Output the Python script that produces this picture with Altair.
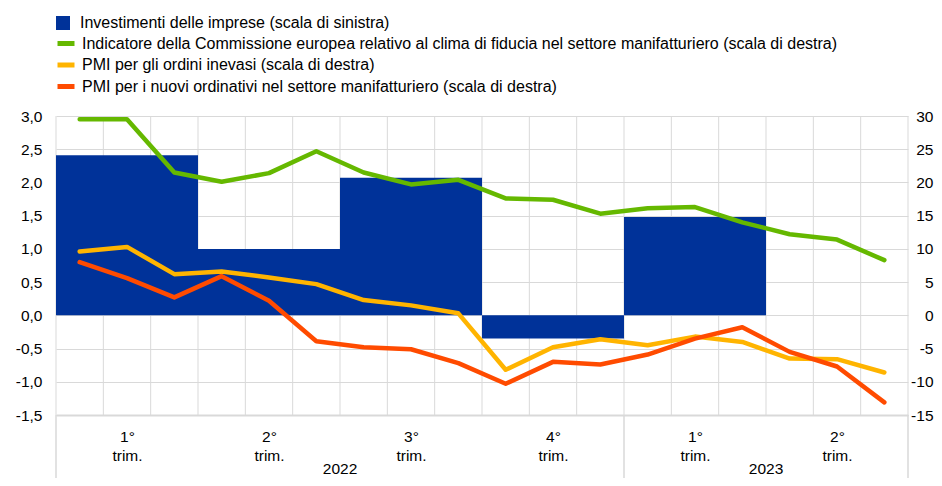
import altair as alt
import pandas as pd

# ---- data ----
month_idx = list(range(18))  # Jan 2022 .. Jun 2023
green = [29.5, 29.5, 21.5, 20.1, 21.4, 24.7, 21.5, 19.7, 20.4, 17.6, 17.4, 15.3, 16.1, 16.3, 14.0, 12.2, 11.4, 8.3]
yellow = [9.6, 10.3, 6.2, 6.6, 5.7, 4.7, 2.3, 1.5, 0.3, -8.2, -4.8, -3.6, -4.5, -3.2, -4.0, -6.5, -6.6, -8.6]
red = [8.0, 5.6, 2.7, 5.9, 2.2, -3.9, -4.8, -5.1, -7.2, -10.3, -7.0, -7.4, -5.9, -3.5, -1.8, -5.5, -7.7, -13.1]
quarter_start = [0, 3, 6, 9, 12]
quarter_end = [3, 6, 9, 12, 15]
invest = [2.41, 1.0, 2.07, -0.35, 1.48]
quarter_centers = [1.5, 4.5, 7.5, 10.5, 13.5, 16.5]
years = ["2022", "2023"]
year_centers = [6, 15]
year_bounds = [0, 12, 18]

bar_name = "Investimenti delle imprese (scala di sinistra)"
line_names = [
    "Indicatore della Commissione europea relativo al clima di fiducia nel settore manifatturiero (scala di destra)",
    "PMI per gli ordini inevasi (scala di destra)",
    "PMI per i nuovi ordinativi nel settore manifatturiero (scala di destra)",
]
line_colors = ["#65B800", "#FFB400", "#FF4B00"]
bar_color = "#003299"

FONT = "Liberation Sans"
W, H = 852, 299
GRID = "#d9d9d9"
AX_FS = 15.5
LEG_FS = 16

rows = []
for name, vals in zip(line_names, [green, yellow, red]):
    for m, v in zip(month_idx, vals):
        rows.append({"m": m + 0.5, "value": v, "series": name})
df_lines = pd.DataFrame(rows)
df_bars = pd.DataFrame({"q0": quarter_start, "q1": quarter_end, "value": invest, "series": bar_name})
df_grid = pd.DataFrame({"m": list(range(19))})
df_years = pd.DataFrame({"m": year_centers, "label": years})
df_sep = pd.DataFrame({"m": year_bounds})

x_scale = alt.Scale(domain=[0, 18], nice=False, zero=False)

grid = alt.Chart(df_grid).mark_rule(color=GRID, strokeWidth=1).encode(
    x=alt.X(
        "m:Q",
        scale=x_scale,
        title=None,
        axis=alt.Axis(
            values=quarter_centers,
            labelExpr="[(floor(datum.value/3)%4+1) + '°', 'trim.']",
            grid=False,
            ticks=False,
            domainColor=GRID,
            domainWidth=2,
            labelFontSize=AX_FS,
            labelFont=FONT,
            labelColor="#000",
            labelPadding=14,
            labelLineHeight=19,
            labelAngle=0,
        ),
    )
)

bars = alt.Chart(df_bars).mark_rect().encode(
    x=alt.X("q0:Q", scale=x_scale),
    x2="q1:Q",
    y=alt.Y(
        "value:Q",
        scale=alt.Scale(domain=[-1.5, 3.0], nice=False, zero=False),
        title=None,
        axis=alt.Axis(
            values=[-1.5, -1.0, -0.5, 0.0, 0.5, 1.0, 1.5, 2.0, 2.5, 3.0],
            labelExpr="(datum.value < 0 ? '-' : '') + replace(format(abs(datum.value), '.1f'), '.', ',')",
            grid=True,
            gridColor=GRID,
            gridWidth=1,
            domain=False,
            ticks=False,
            labelFontSize=AX_FS,
            labelFont=FONT,
            labelColor="#000",
            labelPadding=14,
        ),
    ),
    y2=alt.datum(0),
    color=alt.Color(
        "series:N",
        scale=alt.Scale(domain=[bar_name], range=[bar_color]),
        legend=alt.Legend(
            orient="none",
            legendX=-1,
            legendY=-101,
            title=None,
            symbolType="square",
            symbolSize=196,
            symbolStrokeWidth=0,
            symbolOpacity=1,
            labelFontSize=LEG_FS,
            labelFont=FONT,
            labelColor="#000",
            labelOffset=9,
            labelLimit=900,
            padding=0,
        ),
    ),
)

lines = alt.Chart(df_lines).mark_line(strokeWidth=4.5, strokeCap="round", strokeJoin="round").encode(
    x=alt.X("m:Q", scale=x_scale),
    y=alt.Y(
        "value:Q",
        scale=alt.Scale(domain=[-15, 30], nice=False, zero=False),
        title=None,
        axis=alt.Axis(
            orient="right",
            values=list(range(-15, 31, 5)),
            labelExpr="(datum.value < 0 ? '-' : '') + format(abs(datum.value), 'd')",
            grid=False,
            domain=False,
            ticks=False,
            labelFontSize=AX_FS,
            labelFont=FONT,
            labelColor="#000",
            labelAlign="right",
            labelPadding=25,
        ),
    ),
    stroke=alt.Stroke(
        "series:N",
        sort=line_names,
        scale=alt.Scale(domain=line_names, range=line_colors),
        legend=alt.Legend(
            orient="none",
            legendX=-1,
            legendY=-83.5,
            title=None,
            symbolType="stroke",
            symbolSize=289,
            symbolStrokeWidth=5,
            labelFontSize=LEG_FS,
            labelFont=FONT,
            labelColor="#000",
            labelOffset=5,
            labelLimit=900,
            rowPadding=0.5,
            padding=0,
        ),
    ),
    order=alt.Order("m:Q"),
)

seps = alt.Chart(df_sep).mark_rule(color=GRID, strokeWidth=1.5).encode(
    x=alt.X("m:Q", scale=x_scale),
    y=alt.value(H),
    y2=alt.value(H + 75),
)

year_text = alt.Chart(df_years).mark_text(
    font=FONT, fontSize=AX_FS, color="#000", baseline="middle", align="center"
).encode(
    x=alt.X("m:Q", scale=x_scale),
    y=alt.value(H + 54),
    text="label:N",
)

left = alt.layer(grid, bars, seps, year_text)
chart = (
    alt.layer(left, lines)
    .resolve_scale(y="independent", color="independent", stroke="independent")
    .properties(
        width=W,
        height=H,
        autosize=alt.AutoSizeParams(type="none"),
        padding={"left": 48, "top": 108, "right": 26, "bottom": 63},
    )
    .configure(font=FONT)
    .configure_view(stroke=None)
)

chart.save("out.html", embed_options={"renderer": "svg", "actions": False})
